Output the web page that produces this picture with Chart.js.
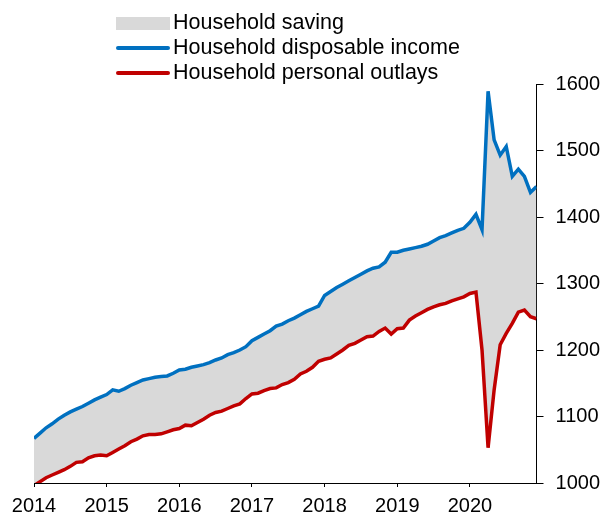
<!DOCTYPE html>
<html>
<head>
<meta charset="utf-8">
<script src="https://cdn.jsdelivr.net/npm/chart.js@4.4.0/dist/chart.umd.min.js"></script>
<style>
    body { margin: 0; background: #fff; font-family: "Liberation Sans", Arial, sans-serif; }
    #wrap { position: relative; width: 605px; height: 515px; }
    #legend { position: absolute; left: 116px; top: 10px; font-size: 21.5px; color: #000; }
    #legend div { height: 25px; line-height: 25px; white-space: nowrap; }
    #legend span.sym { display: inline-block; width: 54px; margin-right: 3px; vertical-align: middle; }
</style>
</head>
<body>
<div id="wrap">
    <canvas id="myChart" width="605" height="515"></canvas>
    <div id="legend"></div>
</div>
<script>
const firstYear = 2014;
const seriesNames = ['Household saving', 'Household disposable income', 'Household personal outlays'];
// monthly, Jan 2014 .. Dec 2020
const income = [
    1067, 1075, 1083, 1089, 1096, 1102, 1107, 1111, 1115, 1120, 1125, 1129,
    1133, 1140, 1138, 1142, 1147, 1151, 1155, 1157, 1159, 1160, 1161, 1165,
    1170, 1171, 1174, 1176, 1178, 1181, 1185, 1188, 1193, 1196, 1200, 1205,
    1214, 1219, 1224, 1229, 1236, 1239, 1244, 1248, 1253, 1258, 1262, 1266,
    1282, 1288, 1294, 1299, 1304, 1309, 1314, 1319, 1323, 1325, 1332, 1347,
    1347, 1350, 1352, 1354, 1356, 1359, 1364, 1369, 1372, 1376, 1380, 1383,
    1392, 1404, 1381, 1589, 1516, 1493, 1506, 1461, 1472, 1461, 1437, 1446
];
const outlays = [
    996, 1002, 1008, 1012, 1016, 1020, 1025, 1031, 1032, 1038, 1041, 1042,
    1041, 1046, 1051, 1056, 1062, 1066, 1071, 1073, 1073, 1074, 1077, 1080,
    1082, 1087, 1086, 1091, 1096, 1102, 1106, 1108, 1112, 1116, 1119, 1127,
    1134, 1135, 1139, 1142, 1143, 1148, 1151, 1156, 1164, 1168, 1174, 1183,
    1186, 1188, 1194, 1200, 1207, 1210, 1215, 1220, 1221, 1228, 1233, 1224,
    1232, 1233, 1245, 1251, 1256, 1261, 1265, 1268, 1270, 1274, 1277, 1280,
    1285, 1287, 1200, 1053, 1140, 1208, 1225, 1240, 1257, 1260, 1250, 1247
];
const yTicks = [1000, 1100, 1200, 1300, 1400, 1500, 1600];

const colors = { saving: '#d9d9d9', income: '#0070c0', outlays: '#c00000' };

// legend as plain html
const legendEl = document.querySelector('#legend');
legendEl.innerHTML =
    `<div><span class="sym" style="height:13px;background:${colors.saving}"></span>${seriesNames[0]}</div>
    <div><span class="sym" style="height:4px;border-radius:2px;background:${colors.income}"></span>${seriesNames[1]}</div>
    <div><span class="sym" style="height:4px;border-radius:2px;background:${colors.outlays}"></span>${seriesNames[2]}</div>`;

const toPoints = arr => arr.map((v, i) => ({ x: i, y: v }));

Chart.defaults.font.family = '"Liberation Sans", Arial, sans-serif';
Chart.defaults.font.size = 20;
Chart.defaults.color = '#000';

const config = {
    type: 'line',
    data: {
        datasets: [{
            label: seriesNames[1],
            data: toPoints(income),
            borderColor: colors.income,
            backgroundColor: colors.saving,
            borderWidth: 3.5,
            pointRadius: 0,
            tension: 0,
            fill: '+1'
        }, {
            label: seriesNames[2],
            data: toPoints(outlays),
            borderColor: colors.outlays,
            borderWidth: 3.5,
            pointRadius: 0,
            tension: 0,
            fill: false
        }]
    },
    options: {
        responsive: false,
        animation: false,
        layout: { padding: { top: 84, left: 34, right: -7, bottom: -10 } },
        plugins: {
            legend: { display: false },
            tooltip: { enabled: false },
            filler: { drawTime: 'beforeDatasetsDraw' }
        },
        scales: {
            x: {
                type: 'linear',
                min: 0,
                max: income.length - 1,
                grid: { drawOnChartArea: false, drawTicks: true, tickLength: 4, color: '#000' },
                border: { color: '#000', width: 1 },
                ticks: {
                    stepSize: 12,
                    includeBounds: false,
                    maxRotation: 0,
                    padding: 9,
                    font: { size: 20, lineHeight: 1 },
                    callback: v => (v % 12 === 0 ? String(firstYear + v / 12) : null)
                }
            },
            y: {
                position: 'right',
                min: yTicks[0],
                max: yTicks[yTicks.length - 1],
                grid: { drawOnChartArea: false, drawTicks: true, tickLength: 7, color: '#000' },
                border: { color: '#000', width: 1 },
                ticks: {
                    stepSize: 100,
                    padding: 12,
                    callback: v => String(v)
                }
            }
        }
    }
};

new Chart(document.querySelector('#myChart'), config);
</script>
</body>
</html>
